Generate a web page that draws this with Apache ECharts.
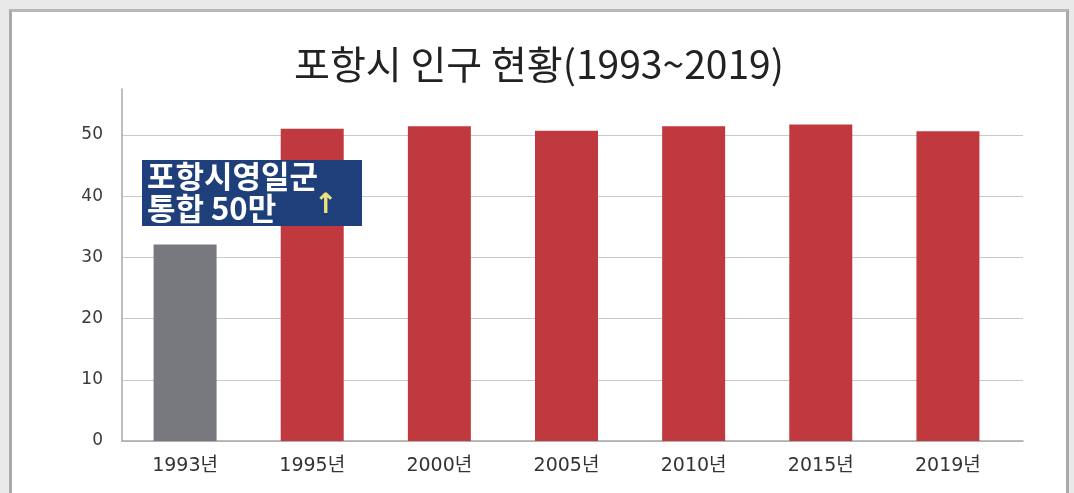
<!DOCTYPE html>
<html><head><meta charset="utf-8">
<script src="https://cdn.jsdelivr.net/npm/echarts@6/dist/echarts.min.js"></script>
<style>
html,body{margin:0;padding:0;background:#e9e9e9;overflow:hidden;}
#frame{position:absolute;left:9px;top:9px;width:1054px;height:484px;border-left:3px solid #a9a9a9;border-right:3px solid #a9a9a9;border-top:3px solid #b8b8b8;background:#fff;}
#chart{width:1054px;height:484px;}
</style></head><body>
<div id="frame"><div id="chart"></div></div>
<script>
const titleText = '포항시 인구 현황(1993~2019)';
const categories = ['1993년', '1995년', '2000년', '2005년', '2010년', '2015년', '2019년'];
const population = [32.1, 51.0, 51.4, 50.7, 51.4, 51.7, 50.6]; // 만 명
const yMin = 0, yMax = 57.5, yStep = 10;
const noteLines = ['포항시영일군', '통합 50만'];
const noteArrow = '↑';

const FONT = '"Noto Sans CJK KR", "Noto Sans", sans-serif';
const AXFONT = '"DejaVu Sans", "Noto Sans CJK KR", sans-serif';
const GRAY = '#78797e', RED = '#c0393f';

const chart = echarts.init(document.getElementById('chart'));
chart.setOption({
  animation: false,
  title: {
    text: titleText, left: 'center', top: 28,
    textStyle: { fontFamily: FONT, fontSize: 39, fontWeight: 'normal', color: '#222' }
  },
  grid: [
    { left: 110, top: 77, width: 901, height: 352 },
    { left: 109.5, top: 77, width: 890, height: 352 }
  ],
  xAxis: [
    { type: 'category', gridIndex: 0, data: categories,
      axisLine: { lineStyle: { color: '#a8a8a8', width: 1.5 } },
      axisTick: { show: false }, axisLabel: { show: false } },
    { type: 'category', gridIndex: 1, data: categories,
      axisLine: { show: false }, axisTick: { show: false },
      axisLabel: { margin: 16, fontFamily: AXFONT, fontSize: 19, color: '#333' } }
  ],
  yAxis: [
    { type: 'value', gridIndex: 0, min: yMin, max: yMax, interval: yStep,
      axisLine: { show: true, lineStyle: { color: '#a8a8a8', width: 1.5 } },
      axisTick: { show: false },
      axisLabel: { showMaxLabel: false, margin: 19, fontFamily: AXFONT, fontSize: 17, color: '#3a3a3a' },
      splitLine: { showMaxLine: false, lineStyle: { color: '#cacaca', width: 1 } } },
    { type: 'value', gridIndex: 1, min: yMin, max: yMax, interval: yStep, show: false,
      splitLine: { show: false } }
  ],
  series: [{
    type: 'bar', xAxisIndex: 1, yAxisIndex: 1, data: population, barWidth: 63,
    itemStyle: { color: p => p.dataIndex === 0 ? GRAY : RED }
  }],
  graphic: [
    { type: 'rect', z: 100, left: 130, top: 148, shape: { width: 220, height: 66 }, style: { fill: '#1f3f7b' } },
    { type: 'text', z: 101, left: 135, top: 149, style: { text: noteLines[0], fill: '#fff', font: 'bold 31px ' + FONT } },
    { type: 'text', z: 101, left: 135, top: 181, style: { text: noteLines[1], fill: '#fff', font: 'bold 31px ' + FONT } },
    { type: 'text', z: 101, left: 302, top: 180, style: { text: noteArrow, fill: '#efe27c', font: 'bold 28px "DejaVu Sans", sans-serif' } }
  ]
});
</script>
</body></html>
